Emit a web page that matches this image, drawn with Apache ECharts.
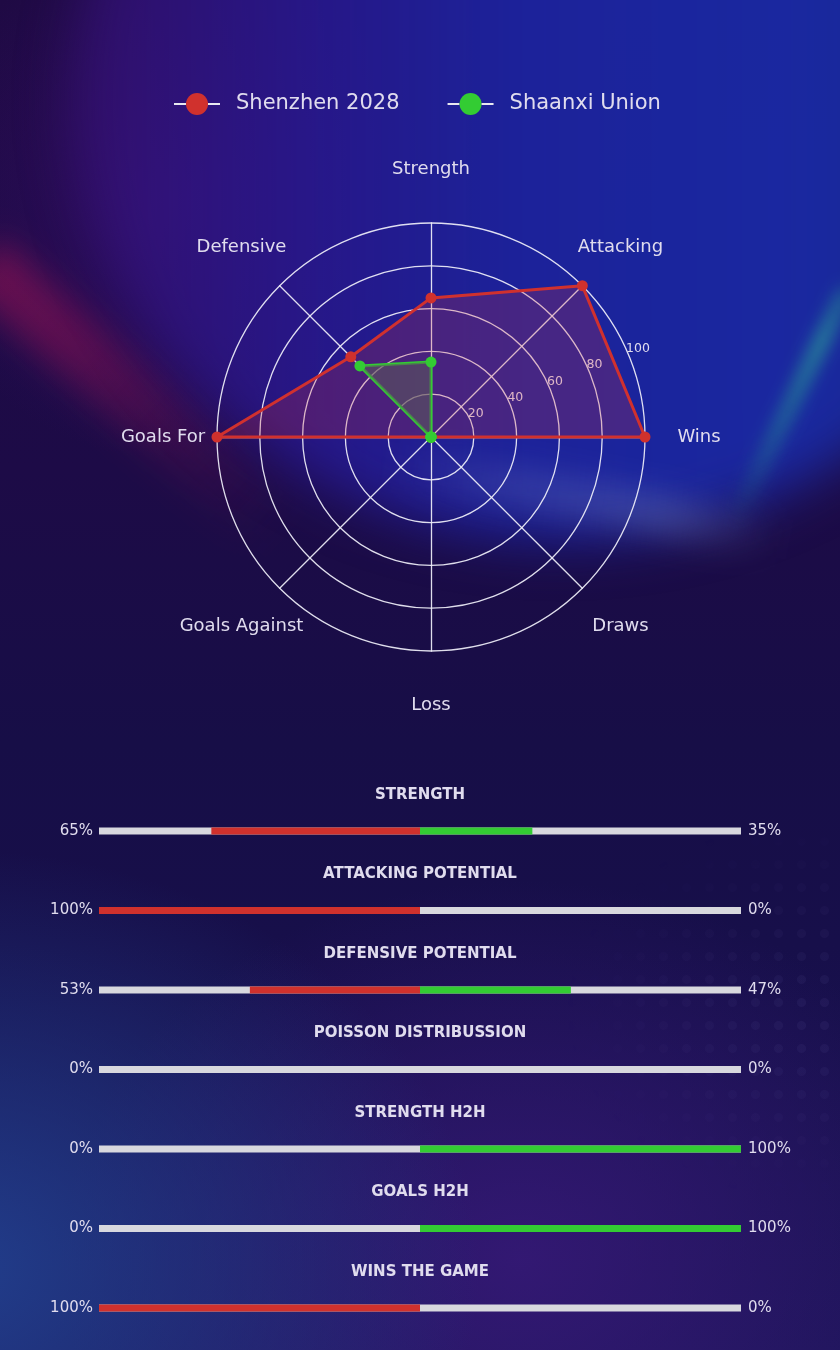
<!DOCTYPE html>
<html>
<head>
<meta charset="utf-8">
<script src="https://cdn.jsdelivr.net/npm/echarts@6/dist/echarts.min.js"></script>
<style>
html,body{margin:0;padding:0;}
body{
  width:840px;height:1350px;overflow:hidden;position:relative;
  background:
    radial-gradient(ellipse 520px 420px at -40px 1270px, rgba(34,66,145,0.9), rgba(34,66,145,0) 100%),
    radial-gradient(ellipse 460px 380px at 520px 1260px, rgba(55,25,120,0.85), rgba(55,25,120,0) 100%),
    radial-gradient(ellipse 260px 260px at 170px 200px, rgba(58,14,110,0.55), rgba(58,14,110,0) 100%),
    linear-gradient(180deg, #1f0a44 0%, #1d0b47 35%, #170e47 55%, #170f4a 70%, #1c1558 100%);
}
.bg{position:absolute;pointer-events:none;}
#blue{left:70px;top:-340px;width:980px;height:880px;border-radius:50%;
  background:linear-gradient(90deg, rgba(60,18,125,0.55) 0%, rgba(40,26,150,0.82) 25%, rgba(28,36,160,0.93) 45%, rgba(26,42,165,0.95) 75%, rgba(20,46,140,0.9) 100%);
  filter:blur(26px);}
#red{left:-70px;top:365px;width:400px;height:60px;transform:rotate(42deg);
  background:linear-gradient(90deg, rgba(200,20,85,0.42) 0%, rgba(190,20,85,0.36) 30%, rgba(170,20,90,0.18) 65%, rgba(170,20,90,0) 100%);
  filter:blur(16px);}
#grey{left:390px;top:480px;width:390px;height:40px;transform:rotate(11deg);
  background:linear-gradient(90deg, rgba(160,170,205,0) 0%, rgba(160,170,205,0.15) 30%, rgba(160,175,205,0.24) 72%, rgba(160,175,205,0) 100%);
  filter:blur(15px);}
#teal{left:660px;top:398px;width:260px;height:16px;transform:rotate(-64deg);
  background:linear-gradient(90deg, rgba(40,200,140,0) 0%, rgba(40,200,140,0.32) 40%, rgba(50,215,150,0.5) 78%, rgba(40,200,140,0.3) 100%);
  filter:blur(8px);}
#dots{left:560px;top:830px;width:280px;height:360px;
  background-image:radial-gradient(circle, rgba(160,150,230,0.07) 4px, rgba(160,150,230,0) 5px);
  background-size:23px 23px;
  -webkit-mask-image:radial-gradient(ellipse 280px 200px at 100% 50%, #000 0%, rgba(0,0,0,0) 100%);
  mask-image:radial-gradient(ellipse 280px 200px at 100% 50%, #000 0%, rgba(0,0,0,0) 100%);}
#chart{position:absolute;left:0;top:0;width:840px;height:1350px;}
</style>
</head>
<body>
<div id="blue" class="bg"></div>
<div id="red" class="bg"></div>
<div id="grey" class="bg"></div>
<div id="teal" class="bg"></div>
<div id="dots" class="bg"></div>
<div id="chart"></div>
<script>
// Radar categories, clockwise from the top
const categories = ['Strength', 'Attacking', 'Wins', 'Draws', 'Loss', 'Goals Against', 'Goals For', 'Defensive'];
const homeValues = [65, 100, 100, 0, 0, 0, 100, 53];
const awayValues = [35, 0, 0, 0, 0, 0, 0, 47];
const teams = ['Shenzhen 2028', 'Shaanxi Union'];
const radialTicks = [20, 40, 60, 80, 100];

// Comparison bars
const metrics = ['STRENGTH', 'ATTACKING POTENTIAL', 'DEFENSIVE POTENTIAL', 'POISSON DISTRIBUSSION', 'STRENGTH H2H', 'GOALS H2H', 'WINS THE GAME'];
const leftPct = [65, 100, 53, 0, 0, 0, 100];
const rightPct = [35, 0, 47, 0, 100, 100, 0];

const RED = '#d0312d';
const GREEN = '#33cc33';
const TXT = '#e0dcee';
const FONT = 'DejaVu Sans';

// ECharts radar goes counter-clockwise: reorder so the display runs clockwise
const order = [0].concat(categories.map((_, i) => i).slice(1).reverse());
const radarInd = order.map(i => ({ name: categories[i], max: 100, min: 0 }));
const homeRadar = order.map(i => homeValues[i]);
const awayRadar = order.map(i => awayValues[i]);

const chart = echarts.init(document.getElementById('chart'), null, { renderer: 'canvas' });

const teamColors = [RED, GREEN];
const legendRich = {
  l: { width: 12, height: 2, backgroundColor: '#e8e8f0', fontSize: 1, lineHeight: 22 },
  t: { fontFamily: FONT, fontSize: 21, color: TXT, padding: [0, 0, 0, 16], lineHeight: 22 }
};
teams.forEach((t, i) => {
  legendRich['c' + i] = { width: 22, height: 22, borderRadius: 11, backgroundColor: teamColors[i], fontSize: 1, lineHeight: 22 };
});

const labelText = { color: TXT, opacity: 1, textBorderWidth: 0, textShadowBlur: 0 };

const option = {
  backgroundColor: 'transparent',
  animation: false,
  legend: {
    left: 164, top: 88, itemWidth: 0, itemHeight: 0, itemGap: 43, icon: 'rect',
    data: teams, selectedMode: false,
    formatter: name => {
      const i = teams.indexOf(name);
      return '{l| }{c' + i + '| }{l| }{t|' + name + '}';
    },
    textStyle: { fontFamily: FONT, fontSize: 21, color: TXT, rich: legendRich }
  },
  radar: {
    center: [431, 437],
    radius: 214,
    startAngle: 90,
    shape: 'circle',
    splitNumber: 5,
    indicator: radarInd,
    axisName: { show: false },
    axisLine: { lineStyle: { color: 'rgba(240,240,250,0.92)', width: 1.3 } },
    splitLine: { lineStyle: { color: 'rgba(240,240,250,0.92)', width: 1.3 } },
    splitArea: { show: false }
  },
  polar: [
    { center: [431, 437], radius: 214 },
    { center: [431, 437], radius: 268 }
  ],
  angleAxis: [
    { polarIndex: 0, type: 'value', min: 0, max: 360, startAngle: 22.5, show: false },
    { polarIndex: 1, type: 'value', min: 0, max: 360, startAngle: 90, clockwise: true, show: false }
  ],
  radiusAxis: [
    {
      polarIndex: 0, type: 'value', min: 0, max: 100, interval: 20,
      axisLine: { show: false }, axisTick: { show: false }, splitLine: { show: false },
      axisLabel: {
        show: true, margin: 7, align: 'left', fontFamily: FONT, fontSize: 12.5, color: TXT,
        formatter: v => (radialTicks.indexOf(v) >= 0 ? String(v) : '')
      }
    },
    { polarIndex: 1, type: 'value', min: 0, max: 100, show: false }
  ],
  grid: { left: 99, right: 99, top: 791.25, bottom: 2.25 },
  xAxis: { type: 'value', min: -100, max: 100, show: false },
  yAxis: [
    {
      type: 'category', data: metrics, inverse: true, position: 'left',
      axisLine: { show: false }, axisTick: { show: false }, splitLine: { show: false },
      axisLabel: { margin: 6, fontFamily: FONT, fontSize: 15, color: TXT, formatter: (v, i) => leftPct[i] + '%' }
    },
    {
      type: 'category', data: metrics, inverse: true, position: 'right',
      axisLine: { show: false }, axisTick: { show: false }, splitLine: { show: false },
      axisLabel: { margin: 7, fontFamily: FONT, fontSize: 15, color: TXT, formatter: (v, i) => rightPct[i] + '%' }
    }
  ],
  series: [
    {
      name: teams[0], type: 'radar', radarIndex: 0, z: 3,
      symbol: 'circle', symbolSize: 11,
      itemStyle: { color: RED },
      lineStyle: { color: RED, width: 3 },
      areaStyle: { color: 'rgba(210,50,60,0.33)' },
      data: [{ value: homeRadar, name: teams[0] }]
    },
    {
      name: teams[1], type: 'radar', radarIndex: 0, z: 4,
      symbol: 'circle', symbolSize: 11,
      itemStyle: { color: GREEN },
      lineStyle: { color: GREEN, width: 3 },
      areaStyle: { color: 'rgba(90,88,92,0.85)' },
      data: [{ value: awayRadar, name: teams[1] }]
    },
    {
      type: 'scatter', coordinateSystem: 'polar', polarIndex: 1, silent: true,
      symbolSize: 1, itemStyle: { color: 'rgba(0,0,0,0)' },
      label: Object.assign({
        show: true, position: 'inside', fontFamily: FONT, fontSize: 18,
        formatter: p => categories[p.dataIndex]
      }, labelText),
      data: categories.map((c, i) => [100, i * 45])
    },
    {
      type: 'bar', xAxisIndex: 0, yAxisIndex: 0, barWidth: 7, barGap: '-100%',
      showBackground: true, backgroundStyle: { color: '#d8d8de' },
      itemStyle: { color: RED }, silent: true,
      data: leftPct.map(v => -v)
    },
    {
      type: 'bar', xAxisIndex: 0, yAxisIndex: 0, barWidth: 7, barGap: '-100%',
      itemStyle: { color: GREEN }, silent: true,
      data: rightPct
    },
    {
      type: 'scatter', xAxisIndex: 0, yAxisIndex: 0, silent: true,
      symbolSize: 1, itemStyle: { color: 'rgba(0,0,0,0)' },
      label: Object.assign({
        show: true, position: 'inside', offset: [0, -36],
        fontFamily: FONT, fontSize: 15, fontWeight: 'bold',
        formatter: p => metrics[p.dataIndex]
      }, labelText),
      data: metrics.map((m, i) => [0, i])
    }
  ]
};
chart.setOption(option);
</script>
</body>
</html>
